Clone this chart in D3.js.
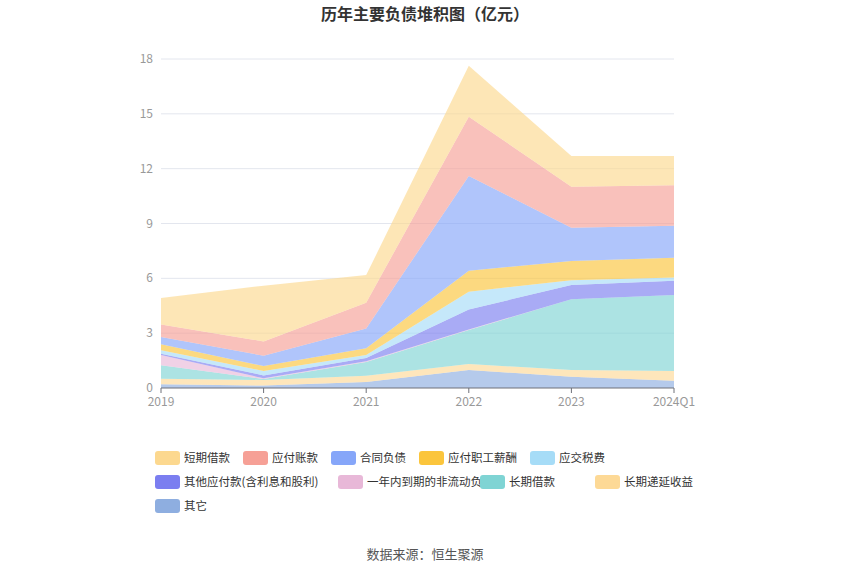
<!DOCTYPE html>
<html><head><meta charset="utf-8">
<script src="https://cdn.jsdelivr.net/npm/d3@7"></script>
<style>body{margin:0;background:#fff;font-family:"Noto Sans CJK SC","Noto Sans",sans-serif}</style>
</head><body>
<script>
const width = 850, height = 575
const years = ['2019','2020','2021','2022','2023','2024Q1']
// bottom to top
const names = ['其它','长期递延收益','长期借款','一年内到期的非流动负债','其他应付款(含利息和股利)','应交税费','应付职工薪酬','合同负债','应付账款','短期借款']
const colors = ['#8eaee0','#fdd996','#7fd4d4','#e8b8d8','#7b7ef0','#a6dcf7','#fbc53c','#86a6f9','#f6a096','#fcd88f']
const qita = [0.2, 0.13, 0.33, 0.98, 0.62, 0.4]
const diyan = [0.3, 0.31, 0.34, 0.33, 0.36, 0.53]
const changqi = [0.75, 0.05, 0.75, 1.86, 3.87, 4.16]
const yinian = [0.55, 0.04, 0.04, 0.03, 0.01, 0]
const qitayingfu = [0.08, 0.16, 0.18, 1.1, 0.77, 0.78]
const shuifei = [0.18, 0.24, 0.16, 0.97, 0.27, 0.18]
const xinchou = [0.33, 0.27, 0.37, 1.15, 1.05, 1.08]
const hetong = [0.4, 0.57, 1.09, 5.18, 1.82, 1.75]
const zhangkuan = [0.69, 0.78, 1.41, 3.24, 2.24, 2.21]
const duanqi = [1.44, 3.05, 1.51, 2.79, 1.68, 1.6]
const series = [qita, diyan, changqi, yinian, qitayingfu, shuifei, xinchou, hetong, zhangkuan, duanqi]
const yTicks = [0, 3, 6, 9, 12, 15, 18]

const rows = years.map((y, i) => {
  const r = {year: y}
  names.forEach((n, k) => r[n] = series[k][i])
  return r
})
const stacked = d3.stack().keys(names)(rows)

const svg = d3.select('body').append('svg').attr('width', width).attr('height', height)

const x = d3.scalePoint().domain(years).range([161, 674])
const y = d3.scaleLinear().domain([0, 18]).range([388, 59])

svg.append('text').attr('x', 425).attr('y', 20).attr('text-anchor', 'middle')
  .style('font-size', '16px').style('font-weight', 'bold').attr('fill', '#333')
  .text('历年主要负债堆积图（亿元）')

svg.append('g').selectAll('line').data(yTicks.slice(1)).join('line')
  .attr('x1', 161).attr('x2', 674).attr('y1', d => y(d)).attr('y2', d => y(d))
  .attr('stroke', '#e3e6ee')

svg.append('g').selectAll('text').data(yTicks).join('text')
  .attr('x', 153).attr('y', d => y(d) + 4).attr('text-anchor', 'end')
  .style('font-size', '12px').attr('fill', '#999').text(d => d)

const area = d3.area().x(d => x(d.data.year)).y0(d => y(d[0])).y1(d => y(d[1]))
svg.append('g').selectAll('path').data(stacked).join('path')
  .attr('d', area).attr('fill', (d, i) => colors[i]).attr('fill-opacity', 0.65)

svg.append('line').attr('x1', 161).attr('x2', 674).attr('y1', 388).attr('y2', 388).attr('stroke', '#6e7079')
svg.append('g').selectAll('line').data(years).join('line')
  .attr('x1', d => x(d)).attr('x2', d => x(d)).attr('y1', 388).attr('y2', 393).attr('stroke', '#6e7079')
svg.append('g').selectAll('text').data(years).join('text')
  .attr('x', d => x(d)).attr('y', 406).attr('text-anchor', 'middle')
  .style('font-size', '12px').attr('fill', '#999').text(d => d)

// legend, top to bottom order
const legendOrder = [9, 8, 7, 6, 5, 4, 3, 2, 1, 0]
const legendPos = [[155,458],[243,458],[331,458],[419,458],[530,458],[155,482],[338,482],[480,482],[595,482],[155,506]]
const lg = svg.append('g').selectAll('g').data(legendOrder).join('g')
  .attr('transform', (d, i) => `translate(${legendPos[i][0]},${legendPos[i][1]})`)
lg.append('rect').attr('x', 0).attr('y', -7).attr('width', 25).attr('height', 14).attr('rx', 3)
  .attr('fill', d => colors[d])
lg.append('text').attr('x', 29).attr('y', 4).style('font-size', '11.5px').attr('fill', '#333')
  .text(d => names[d])

svg.append('text').attr('x', 425).attr('y', 559).attr('text-anchor', 'middle')
  .style('font-size', '13px').attr('fill', '#555').text('数据来源：恒生聚源')
</script>
</body></html>
